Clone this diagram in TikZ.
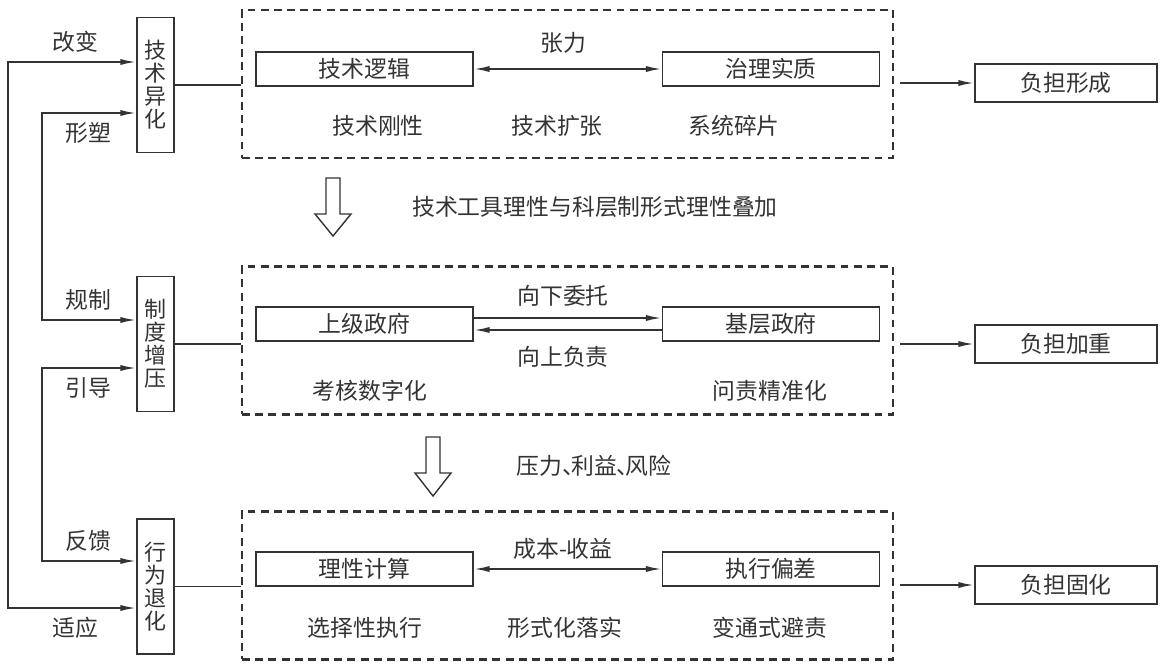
\documentclass[tikz,border=0pt]{standalone}
\usepackage{fontspec}
\setmainfont{Noto Sans CJK SC}
\usetikzlibrary{arrows.meta,positioning}
\definecolor{ink}{HTML}{333333}

\begin{document}
\begin{tikzpicture}[
	x=0.02cm, y=-0.02cm,
	every node/.style={font=\fontsize{13}{15}\selectfont,text=ink},
	box/.style={rectangle,draw=ink,line width=1pt,minimum width=4.34cm,minimum height=0.68cm,inner sep=0pt},
	vbox/.style={rectangle,draw=ink,line width=1pt,minimum width=0.74cm,minimum height=2.7cm,inner sep=0pt,align=center,font=\fontsize{12.5}{13.1}\selectfont},
	outbox/.style={rectangle,draw=ink,line width=1pt,minimum width=3.64cm,minimum height=0.76cm,inner sep=0pt},
	group/.style={rectangle,draw=ink,line width=1.2pt,dash pattern=on 4.5pt off 3pt,minimum width=13.02cm,minimum height=2.96cm},
	link/.style={>={Latex[length=9pt,width=3.5pt]},draw=ink,line width=1pt},
	hollow/.style={draw=ink,line width=0.8pt,fill=white}
]
	\useasboundingbox (0,0) rectangle (1164,669);

	% left column
	\node[vbox] (tech) at (155.5,85) {技\\术\\异\\化};
	\node[vbox] (inst) at (155.5,344) {制\\度\\增\\压};
	\node[vbox] (act) at (155.5,586.5) {行\\为\\退\\化};

	\draw[link,<->] (tech.west |- 0,62) -- (8,62) -- (8,608) -- (act.west |- 0,608);
	\draw[link,<->] (tech.west |- 0,113) -- (42,113) -- (42,320) -- (inst.west |- 0,320);
	\draw[link,<->] (inst.west |- 0,368) -- (42,368) -- (42,561) -- (act.west |- 0,561);

	\node (change) at (75,42) {改变};
	\node (shape) at (88,133) {形塑};
	\node (rule) at (88,300) {规制};
	\node (guide) at (88,388) {引导};
	\node (feedback) at (88,541) {反馈};
	\node (adapt) at (75,628) {适应};

	% groups
	\node[group] (g1) at (567.5,84) {};
	\node[group] (g2) at (567.5,340.5) {};
	\node[group] (g3) at (567.5,585.5) {};

	\draw[link] (tech.east) -- (tech.east -| g1.west);
	\draw[link] (inst.east) -- (inst.east -| g2.west);
	\draw[link] (act.east) -- (act.east -| g3.west);

	% first group
	\node[box] (logic) at (364.5,69) {技术逻辑};
	\node[box] (essence) at (771,69) {治理实质};
	\draw[link,<->] (logic) -- (essence);
	\node (tension) at (563,43) {张力};
	\node (rigid) at (378,126) {技术刚性};
	\node (expand) at (557,126) {技术扩张};
	\node (frag) at (734,126) {系统碎片};

	% second group
	\node[box] (upper) at (364.5,324) {上级政府};
	\node[box] (base) at (771,324) {基层政府};
	\draw[link,->] ([yshift=0.12cm]upper.east) -- ([yshift=0.12cm]base.west);
	\draw[link,->] ([yshift=-0.12cm]base.west) -- ([yshift=-0.12cm]upper.east);
	\node (down) at (563,296) {向下委托};
	\node (up) at (563,357) {向上负责};
	\node (assess) at (370,391) {考核数字化};
	\node (account) at (770,391) {问责精准化};

	% third group
	\node[box] (calc) at (364.5,569) {理性计算};
	\node[box] (dev) at (771,569) {执行偏差};
	\draw[link,<->] (calc) -- (dev);
	\node (cost) at (563,549) {成本-收益};
	\node (select) at (365,628) {选择性执行};
	\node (formal) at (565,628) {形式化落实};
	\node (avoid) at (770,628) {变通式避责};

	% hollow arrows between groups
	\draw[hollow] (326,178) -- (340,178) -- (340,214) -- (351,214) -- (333,236) -- (315,214) -- (326,214) -- cycle;
	\node (overlay) at (595,207) {技术工具理性与科层制形式理性叠加};
	\draw[hollow] (426,437) -- (440,437) -- (440,473) -- (451,473) -- (433,496) -- (415,473) -- (426,473) -- cycle;
	\node (pressure) at (594,466) {压力、\kern-0.6em利益、\kern-0.6em风险};

	% outcomes
	\node[outbox] (form) at (1066,83) {负担形成};
	\node[outbox] (heavy) at (1066,344) {负担加重};
	\node[outbox] (fixed) at (1066,585) {负担固化};
	\draw[link,->,shorten <=0.12cm] (g1.east |- form.west) -- (form.west);
	\draw[link,->,shorten <=0.12cm] (g2.east |- heavy.west) -- (heavy.west);
	\draw[link,->,shorten <=0.12cm] (g3.east |- fixed.west) -- (fixed.west);

\end{tikzpicture}
\end{document}
